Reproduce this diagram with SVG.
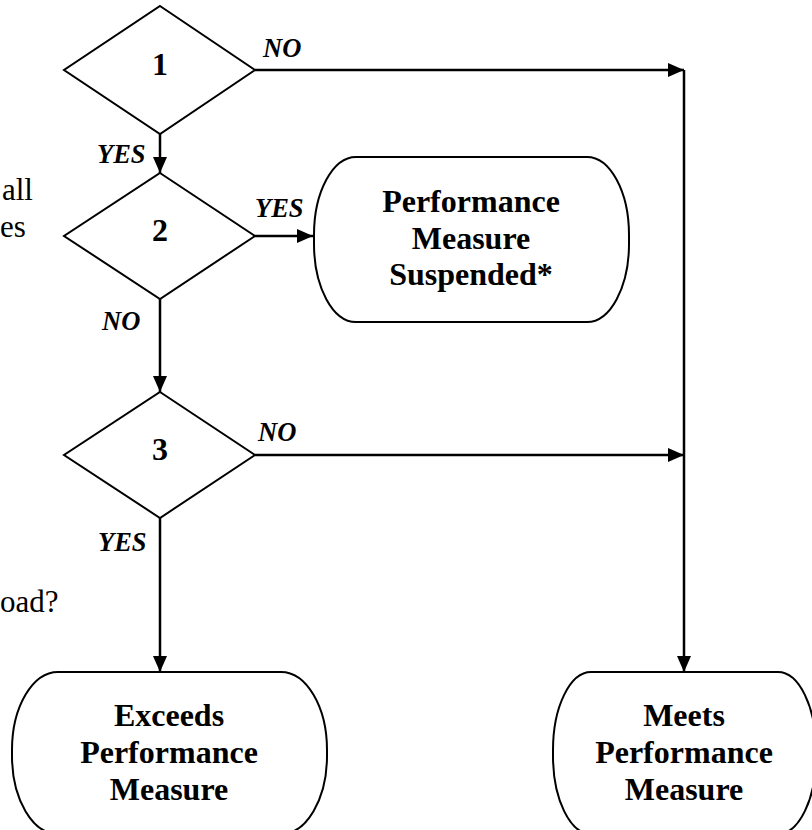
<svg xmlns="http://www.w3.org/2000/svg" width="812" height="830" viewBox="0 0 812 830">
<defs>
<style>
.shape{fill:#fff;stroke:#000;stroke-width:2}
.conn{fill:none;stroke:#000;stroke-width:2.5}
.num{font-family:"Liberation Serif","Times New Roman",serif;font-weight:bold;font-size:32px;text-anchor:middle;fill:#000}
.box{font-family:"Liberation Serif","Times New Roman",serif;font-weight:bold;font-size:32px;text-anchor:middle;fill:#000}
.lbl{font-family:"Liberation Serif","Times New Roman",serif;font-weight:bold;font-style:italic;font-size:26.5px;fill:#000}
.side{font-family:"Liberation Serif","Times New Roman",serif;font-size:31px;fill:#000}
</style>
<marker id="arr" markerUnits="userSpaceOnUse" markerWidth="16" markerHeight="14" refX="16" refY="7" orient="auto">
<path d="M0,0 L16,7 L0,14 Z" fill="#000"/>
</marker>
</defs>
<g id="side-text">
<text class="side" x="2" y="200">all</text>
<text class="side" x="0" y="237">es</text>
<text class="side" x="0" y="612">oad?</text>
</g>
<g id="connectors">
<line class="conn" x1="255" y1="70" x2="684" y2="70" marker-end="url(#arr)"/>
<line class="conn" x1="684" y1="70" x2="684" y2="672" marker-end="url(#arr)"/>
<line class="conn" x1="160" y1="134" x2="160" y2="173" marker-end="url(#arr)"/>
<line class="conn" x1="255" y1="236" x2="313" y2="236" marker-end="url(#arr)"/>
<line class="conn" x1="160" y1="299" x2="160" y2="392" marker-end="url(#arr)"/>
<line class="conn" x1="255" y1="455" x2="684" y2="455" marker-end="url(#arr)"/>
<line class="conn" x1="160" y1="518" x2="160" y2="672" marker-end="url(#arr)"/>
<text class="lbl" x="263" y="57">NO</text>
<text class="lbl" x="97" y="163">YES</text>
<text class="lbl" x="255" y="217">YES</text>
<text class="lbl" x="102" y="330">NO</text>
<text class="lbl" x="258" y="441">NO</text>
<text class="lbl" x="98" y="551">YES</text>
</g>
<g id="d1">
<polygon class="shape" points="160,6 255,70 160,134 64,70"/>
<text class="num" x="160" y="75">1</text>
</g>
<g id="d2">
<polygon class="shape" points="160,173 255,236 160,299 64,236"/>
<text class="num" x="160" y="241">2</text>
</g>
<g id="d3">
<polygon class="shape" points="160,392 255,455 160,518 64,455"/>
<text class="num" x="160" y="460">3</text>
</g>
<g id="suspended">
<rect class="shape" x="314" y="157" width="315" height="165" rx="42" ry="78"/>
<text class="box" x="471" y="212">Performance</text>
<text class="box" x="471" y="249">Measure</text>
<text class="box" x="471" y="285">Suspended*</text>
</g>
<g id="exceeds">
<rect class="shape" x="12" y="672" width="315" height="162" rx="46" ry="78"/>
<text class="box" x="169" y="726">Exceeds</text>
<text class="box" x="169" y="763">Performance</text>
<text class="box" x="169" y="800">Measure</text>
</g>
<g id="meets">
<rect class="shape" x="553" y="672" width="263" height="162" rx="38" ry="78"/>
<text class="box" x="684" y="726">Meets</text>
<text class="box" x="684" y="763">Performance</text>
<text class="box" x="684" y="800">Measure</text>
</g>
</svg>
